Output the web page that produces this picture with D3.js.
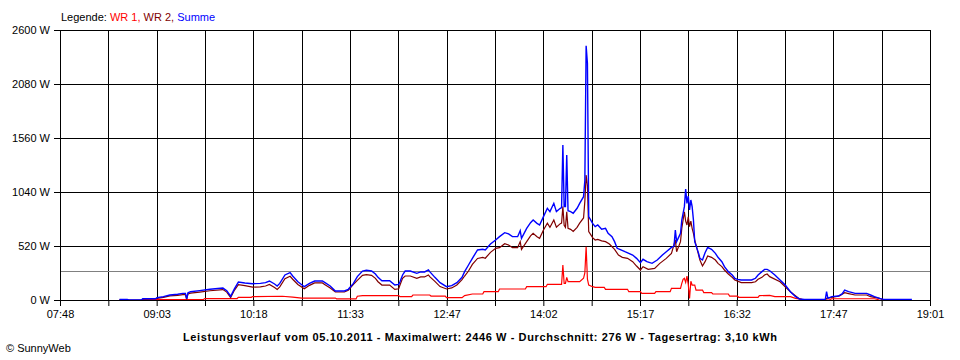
<!DOCTYPE html>
<html><head><meta charset="utf-8">
<script src="https://cdn.jsdelivr.net/npm/d3@7"></script>
<style>
html,body{margin:0;padding:0;background:#fff;}
svg{display:block;font-family:"Liberation Sans",Arial,sans-serif;}
</style></head><body>
<svg id="chart" width="960" height="360"></svg>
<script>
// ---- data ----
const timeDomain = ["07:48", "19:01"];
const timeLabels = ["07:48","09:03","10:18","11:33","12:47","14:02","15:17","16:32","17:47","19:01"];
const yTicks = [0, 520, 1040, 1560, 2080, 2600];
const averageW = 276;
const seriesNames = ["WR 1", "WR 2", "Summe"];
const titleText = "Leistungsverlauf vom 05.10.2011 - Maximalwert: 2446 W - Durchschnitt: 276 W - Tagesertrag: 3,10 kWh";

const wr1 = [
["08:52",5],["09:39",5],["09:40",14],["10:05",14],["10:06",26],["10:16",26],["10:17",33],["10:40",36],["10:48",28],["10:55",19],
["11:21",19],["11:22",10],["11:37",10],["11:38",36],["11:42",42],["12:10",42],["12:11",32],["12:20",32],["12:21",48],["12:34",48],
["12:35",38],["12:46",38],["12:47",22],["12:59",22],["13:01",42],["13:07",58],["13:15",58],["13:16",80],["13:27",80],["13:28",106],
["13:48",106],["13:49",128],["14:04",128],["14:05",151],["14:16",151],["14:17",337],["14:18",160],["14:19",160],["14:20",218],["14:21",176],
["14:30",176],["14:33",209],["14:34",260],["14:35",513],["14:36",200],["14:37",144],["14:40",128],["14:42",122],["14:49",122],["14:50",103],
["15:07",103],["15:08",80],["15:17",80],["15:18",64],["15:28",64],["15:29",80],["15:40",80],["15:41",112],["15:48",112],["15:49",160],
["15:50",199],["15:51",209],["15:52",170],["15:53",230],["15:54",150],["15:55",16],["15:56",180],["15:57",144],["15:59",144],["16:00",96],
["16:05",96],["16:06",71],["16:12",71],["16:13",58],["16:25",58],["16:26",38],["16:32",38],["16:33",26],["16:48",26],["16:49",42],
["16:57",45],["17:01",32],["17:13",32],["17:17",16],["17:20",10],["17:24",0],["17:43",0],["17:45",12],["18:18",12],["18:22",0]
];

const wr2 = [
["08:34",5],["08:40",5],["08:41",0],["08:51",0],["08:52",7],["09:03",15],["09:08",26],["09:13",40],["09:19",45],["09:23",52],
["09:25",52],["09:26",6],["09:27",58],["09:29",66],["09:36",76],["09:44",89],["09:54",100],["09:57",76],["10:00",24],["10:03",96],
["10:06",147],["10:11",138],["10:17",124],["10:23",127],["10:27",135],["10:30",150],["10:34",120],["10:36",102],["10:38",126],["10:42",205],
["10:46",228],["10:48",200],["10:52",150],["10:57",109],["11:01",141],["11:05",164],["11:11",164],["11:13",148],["11:17",116],["11:21",77],
["11:28",77],["11:31",93],["11:35",150],["11:38",189],["11:42",237],["11:45",244],["11:49",237],["11:52",208],["11:54",176],["11:57",144],
["12:03",144],["12:07",102],["12:10",108],["12:11",144],["12:13",209],["12:15",231],["12:19",231],["12:24",209],["12:27",222],["12:30",222],
["12:33",241],["12:34",225],["12:38",180],["12:42",129],["12:47",106],["12:51",116],["12:55",145],["12:59",196],["13:01",231],["13:04",279],
["13:07",343],["13:11",400],["13:15",410],["13:17",402],["13:21",459],["13:25",498],["13:28",504],["13:32",542],["13:35",530],["13:38",504],
["13:42",504],["13:44",562],["13:45",488],["13:49",562],["13:52",617],["13:54",642],["13:57",610],["13:59",594],["14:02",675],["14:05",740],
["14:07",700],["14:10",770],["14:12",700],["14:15",735],["14:16",740],["14:17",900],["14:18",720],["14:19",700],["14:20",850],["14:21",690],
["14:23",680],["14:25",660],["14:28",700],["14:30",740],["14:33",790],["14:34",950],["14:35",1204],["14:36",1100],["14:37",660],["14:40",600],
["14:42",578],["14:44",584],["14:47",570],["14:50",562],["14:53",539],["14:57",488],["15:00",433],["15:03",411],["15:07",401],["15:11",369],
["15:14",327],["15:17",289],["15:19",321],["15:23",295],["15:28",305],["15:32",353],["15:37",401],["15:41",449],["15:44",578],["15:45",465],
["15:48",562],["15:49",690],["15:51",850],["15:52",760],["15:53",722],["15:54",800],["15:55",706],["15:56",760],["15:57",690],["15:58",642],
["15:59",578],["16:01",482],["16:03",385],["16:05",327],["16:07",369],["16:09",424],["16:12",411],["16:15",385],["16:17",353],["16:20",321],
["16:22",289],["16:25",250],["16:28",218],["16:30",193],["16:35",167],["16:43",167],["16:46",176],["16:48",199],["16:51",218],["16:53",241],
["16:55",250],["16:57",225],["17:05",176],["17:13",80],["17:20",10],["17:24",0],["17:40",0],["17:41",16],["17:45",25],["17:51",38],
["17:53",55],["17:55",71],["17:58",62],["18:03",48],["18:12",48],["18:15",32],["18:22",16],["18:25",0]
];

const summe = [
["08:34",6],["08:40",6],["08:41",0],["08:51",0],["08:52",12],["09:02",12],["09:03",22],["09:08",32],["09:13",48],["09:19",55],
["09:23",64],["09:25",64],["09:26",12],["09:27",70],["09:29",80],["09:36",90],["09:44",103],["09:54",115],["09:57",90],["10:00",36],
["10:03",110],["10:06",173],["10:11",164],["10:17",157],["10:23",160],["10:27",167],["10:30",183],["10:34",154],["10:36",135],["10:38",160],
["10:42",241],["10:46",263],["10:48",231],["10:52",176],["10:57",128],["11:01",160],["11:05",183],["11:11",183],["11:13",167],["11:17",135],
["11:21",87],["11:28",87],["11:31",103],["11:35",160],["11:38",225],["11:42",279],["11:45",286],["11:49",279],["11:52",250],["11:54",218],
["11:57",186],["12:03",186],["12:07",144],["12:10",150],["12:11",176],["12:13",241],["12:15",279],["12:19",279],["12:24",257],["12:27",270],
["12:30",270],["12:33",289],["12:34",273],["12:38",218],["12:42",167],["12:47",128],["12:51",138],["12:55",167],["12:59",218],["13:01",273],
["13:04",337],["13:07",401],["13:11",482],["13:15",488],["13:17",482],["13:21",539],["13:25",578],["13:28",610],["13:32",648],["13:35",636],
["13:38",610],["13:42",610],["13:44",668],["13:45",594],["13:49",690],["13:52",745],["13:54",770],["13:57",738],["13:59",722],["14:02",803],
["14:05",883],["14:07",851],["14:10",931],["14:12",851],["14:15",883],["14:16",890],["14:17",1493],["14:18",899],["14:19",899],["14:20",1396],
["14:21",860],["14:23",851],["14:25",835],["14:28",883],["14:30",931],["14:33",995],["14:34",1150],["14:35",2449],["14:36",2280],["14:37",803],
["14:40",738],["14:42",706],["14:44",722],["14:47",681],["14:50",690],["14:52",642],["14:55",610],["14:57",562],["14:59",498],["15:01",488],
["15:05",465],["15:11",433],["15:14",401],["15:17",360],["15:19",392],["15:22",369],["15:26",353],["15:30",385],["15:34",433],["15:37",465],
["15:41",507],["15:43",520],["15:44",674],["15:45",562],["15:48",642],["15:49",770],["15:51",899],["15:52",1069],["15:53",931],["15:54",1001],
["15:55",867],["15:56",963],["15:57",899],["15:58",770],["15:59",562],["16:02",449],["16:03",401],["16:05",385],["16:07",456],["16:09",507],
["16:12",488],["16:15",449],["16:17",411],["16:20",369],["16:22",321],["16:25",273],["16:28",241],["16:30",209],["16:32",199],["16:35",193],
["16:43",193],["16:46",209],["16:48",241],["16:51",273],["16:53",295],["16:55",295],["16:57",282],["17:01",241],["17:05",193],["17:09",144],
["17:13",80],["17:17",32],["17:20",10],["17:24",5],["17:40",5],["17:41",80],["17:42",16],["17:45",32],["17:50",38],["17:53",58],
["17:55",96],["17:58",80],["18:01",71],["18:03",64],["18:12",64],["18:15",48],["18:18",32],["18:22",16],["18:25",6],["18:47",6]
];

// ---- drawing ----
const colors = {"WR 1": "#ff0000", "WR 2": "#800000", "Summe": "#0000ff"};
const svg = d3.select("#chart");
const parse = d3.timeParse("%H:%M");
const mLeft = 60, mRight = 930, mTop = 30, mBottom = 300;

const x = d3.scaleTime().domain(timeDomain.map(parse)).range([mLeft, mRight]);
const y = d3.scaleLinear().domain([yTicks[0], yTicks[yTicks.length - 1]]).range([mBottom, mTop]);

const t0 = x.domain()[0].getTime(), t1 = x.domain()[1].getTime();
const nGrid = (timeLabels.length - 1) * 2;
const gridTimes = d3.range(nGrid + 1).map(k => new Date(t0 + k * (t1 - t0) / nGrid));

// horizontal grid lines
svg.append("g").selectAll("line").data(yTicks).join("line")
  .attr("x1", mLeft).attr("x2", mRight + 1)
  .attr("y1", d => Math.round(y(d)) + 0.5).attr("y2", d => Math.round(y(d)) + 0.5)
  .attr("stroke", "#000").attr("stroke-width", 1).attr("shape-rendering", "crispEdges");

// vertical grid lines
svg.append("g").selectAll("line").data(gridTimes).join("line")
  .attr("x1", d => Math.round(x(d)) + 0.5).attr("x2", d => Math.round(x(d)) + 0.5)
  .attr("y1", mTop).attr("y2", mBottom)
  .attr("stroke", "#000").attr("stroke-width", 1).attr("shape-rendering", "crispEdges");

// average line
svg.append("line")
  .attr("x1", mLeft + 1).attr("x2", mRight)
  .attr("y1", Math.round(y(averageW)) + 0.5).attr("y2", Math.round(y(averageW)) + 0.5)
  .attr("stroke", "#808080").attr("stroke-width", 1).attr("shape-rendering", "crispEdges");

// series
const line = d3.line().x(d => x(parse(d[0]))).y(d => y(d[1]));
const seriesData = {"WR 1": wr1, "WR 2": wr2, "Summe": summe};
seriesNames.forEach(name => {
  svg.append("path").datum(seriesData[name])
    .attr("d", line)
    .attr("fill", "none")
    .attr("stroke", colors[name])
    .attr("stroke-width", name === "Summe" ? 1.4 : 1.2)
    .attr("stroke-linejoin", "miter");
});

// axes
const xAxis = d3.axisBottom(x).tickValues(gridTimes).tickSize(6).tickPadding(4)
  .tickFormat((d, i) => i % 2 === 0 ? timeLabels[i / 2] : "");
const gx = svg.append("g").attr("transform", `translate(0,${mBottom})`).call(xAxis);
gx.select(".domain").attr("stroke", "#000").attr("d", `M${mLeft},0.5H${mRight + 1}`);
gx.selectAll(".tick line").attr("stroke", "#000");
gx.selectAll(".tick text").attr("fill", "#000").style("font-size", "11px")
  .style("font-family", "'Liberation Sans', Arial, sans-serif");

const yAxis = d3.axisLeft(y).tickValues(yTicks).tickSize(6).tickPadding(4)
  .tickFormat(d => d + " W");
const gy = svg.append("g").attr("transform", `translate(${mLeft},0)`).call(yAxis);
gy.select(".domain").attr("stroke", "#000").attr("d", `M0.5,${mTop}V${mBottom + 1}`);
gy.selectAll(".tick line").attr("stroke", "#000");
gy.selectAll(".tick text").attr("fill", "#000").style("font-size", "11px")
  .style("font-family", "'Liberation Sans', Arial, sans-serif");

// legend
const legend = svg.append("text").attr("x", 61).attr("y", 21)
  .style("font-size", "11px");
legend.append("tspan").attr("fill", "#000").text("Legende: ");
seriesNames.forEach((name, i) => {
  legend.append("tspan").attr("fill", colors[name])
    .text(name + (i < seriesNames.length - 1 ? ", " : ""));
});

// title
svg.append("text").attr("x", 480).attr("y", 341).attr("text-anchor", "middle")
  .style("font-size", "11px").style("font-weight", "bold").attr("fill", "#000")
  .attr("textLength", 594).attr("lengthAdjust", "spacing")
  .text(titleText);

// copyright
svg.append("text").attr("x", 6).attr("y", 352).style("font-size", "11px").attr("fill", "#000")
  .text("© SunnyWeb");
</script>
</body></html>
